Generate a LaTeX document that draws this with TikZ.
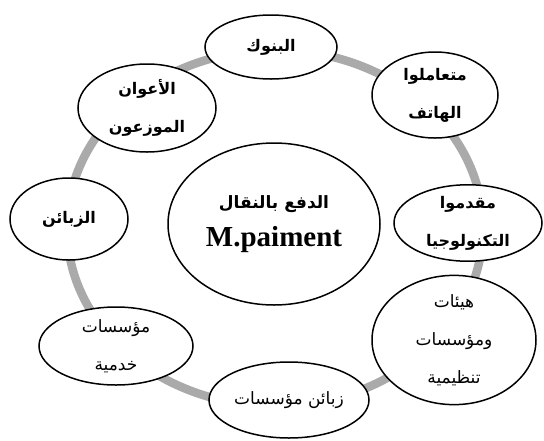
\documentclass[tikz,border=0pt]{standalone}
\usepackage{fontspec}
\usetikzlibrary{shapes.geometric}
\TeXXeTstate=1
\setmainfont{Liberation Serif}
\newfontfamily\arabicfont[Script=Arabic]{DejaVu Sans}
\definecolor{ringgray}{RGB}{170,170,170}
\tikzset{
  bub/.style={ellipse, draw=black, line width=1.5pt, fill=white, inner sep=0pt},
  arb/.style={font=\arabicfont\bfseries\fontsize{16}{38}\selectfont, align=center},
  arl/.style={font=\arabicfont\fontsize{17}{38}\selectfont, align=center},
  ring/.style={draw=ringgray, line width=8.5pt}
}
\begin{document}
\begin{tikzpicture}[x=1pt,y=-1pt]
\useasboundingbox (0,0) rectangle (544,440);
\draw[ring] (275,228) ellipse [x radius=208pt, y radius=178pt];
\node[bub, minimum width=212pt, minimum height=162pt, align=center] (center) at (274,224)
  {{\arabicfont\bfseries\fontsize{17}{20}\selectfont\beginR الدفع بالنقال\endR}\\[13pt]
   {\bfseries\fontsize{29}{30}\selectfont M.paiment}};
\node[bub, arb, minimum width=132pt, minimum height=64pt] (bank) at (271,47) {\beginR البنوك\endR};
\node[bub, arb, minimum width=126pt, minimum height=86pt] (phone) at (435,95) {\beginR متعاملوا\endR\\\beginR الهاتف\endR};
\node[bub, arb, minimum width=148pt, minimum height=70pt] (tech) at (468,223) {\beginR مقدموا\endR\\\beginR التكنولوجيا\endR};
\node[bub, arl, minimum width=164pt, minimum height=116pt] (reg) at (454,340) {\beginR هيئات\endR\\\beginR ومؤسسات\endR\\\beginR تنظيمية\endR};
\node[bub, arl, minimum width=160pt, minimum height=76pt] (corp) at (289,400) {\beginR زبائن مؤسسات\endR};
\node[bub, arl, minimum width=154pt, minimum height=78pt] (serv) at (116,346) {\beginR مؤسسات\endR\\\beginR خدمية\endR};
\node[bub, arb, minimum width=118pt, minimum height=82pt] (cust) at (69,219) {\beginR الزبائن\endR};
\node[bub, arb, minimum width=138pt, minimum height=88pt] (dist) at (147,108) {\beginR الأعوان\endR\\\beginR الموزعون\endR};
\end{tikzpicture}
\end{document}
